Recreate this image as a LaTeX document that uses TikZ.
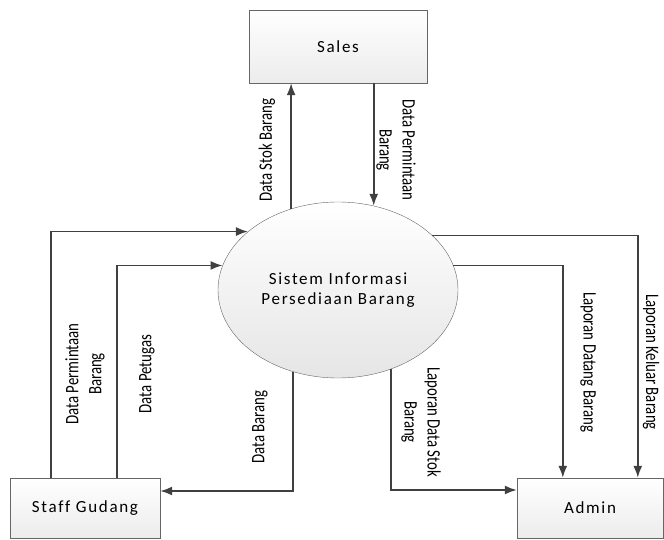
\documentclass[tikz,border=0pt]{standalone}
\usepackage{fontspec}
\setmainfont{Carlito}[LetterSpace=10,Ligatures=NoCommon]
\newfontfamily\lblfont{Carlito}[FakeStretch=0.78]
\usetikzlibrary{arrows.meta,shapes.geometric}

\definecolor{lineclr}{HTML}{404040}

\begin{document}
\begin{tikzpicture}[x=1pt,y=-1pt,
		entity/.style={draw=gray!80!black, top color=white, bottom color=gray!15, font=\fontsize{17}{20}\selectfont},
		proc/.style={ellipse, draw=gray!80!black, top color=white, bottom color=gray!20, minimum width=240pt, minimum height=176pt, align=center, font=\fontsize{17}{20}\selectfont},
		flow/.style={draw=lineclr, line width=1.7pt, -{Latex[length=12pt,width=9pt]}},
		lbl/.style={align=center, inner sep=0pt, font=\lblfont\fontsize{19}{23}\selectfont}]
		\clip (0,0) rectangle (664,540);

		% entitas luar dan proses
		\node[entity, minimum width=178pt, minimum height=73pt] (sales) at (338,46.5) {Sales};
		\node[entity, minimum width=150pt, minimum height=60pt] (staff) at (85,508) {Staff Gudang};
		\node[entity, minimum width=146pt, minimum height=60pt] (admin) at (590,508) {Admin};
		\node[proc] (sistem) at (338,290) {Sistem Informasi\\Persediaan Barang};

		% aliran data
		\draw[flow] (sistem.120) -- (sistem.120 |- sales.south);
		\draw[flow] (sistem.67 |- sales.south) -- (sistem.67);
		\draw[flow] ([xshift=41pt]staff.north west) |- (sistem.147);
		\draw[flow] ([xshift=107pt]staff.north west) |- (sistem.168);
		\draw[flow] (sistem.241) |- ([yshift=17pt]staff.east);
		\draw[flow] (sistem.304) |- ([yshift=18pt]admin.west);
		\draw[flow] (sistem.12) -| ([xshift=46pt]admin.north west);
		\draw[flow] (sistem.30) -| ([xshift=121pt]admin.north west);

		% label aliran
		\node[lbl, rotate=90] (lstok) at (267,150) {Data Stok Barang};
		\node[lbl, rotate=-90] (lmintasales) at (396,150) {Data Permintaan\\Barang};
		\node[lbl, rotate=90] (lmintastaff) at (85,374) {Data Permintaan\\Barang};
		\node[lbl, rotate=90] (lpetugas) at (147,374) {Data Petugas};
		\node[lbl, rotate=90] (lbarang) at (260,427) {Data Barang};
		\node[lbl, rotate=-90] (llapstok) at (421,422) {Laporan Data Stok\\Barang};
		\node[lbl, rotate=-90] (llapdatang) at (588,362) {Laporan Datang Barang};
		\node[lbl, rotate=-90] (llapkeluar) at (651,362) {Laporan Keluar Barang};
	\end{tikzpicture}
\end{document}
